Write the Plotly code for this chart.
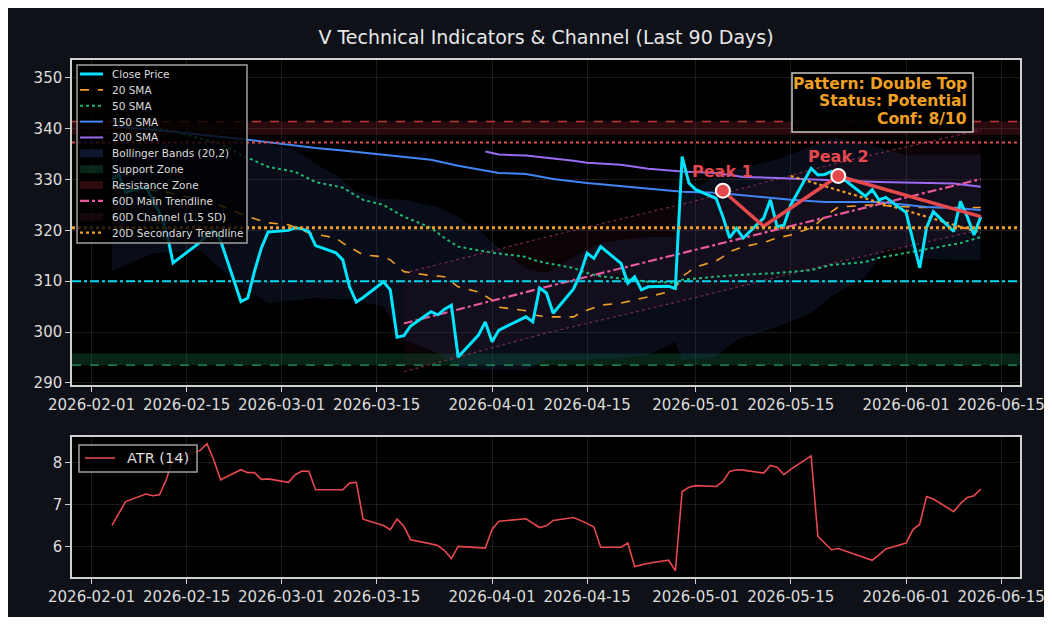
import pandas as pd
import plotly.graph_objects as go
from plotly.subplots import make_subplots

# trading days (NYSE holidays removed)
holidays = ["2026-02-16", "2026-04-03", "2026-05-25"]
dates = [d for d in pd.bdate_range("2026-02-04", "2026-06-12")
         if d.strftime("%Y-%m-%d") not in holidays]

close = [330.0, 331.0, 327.5, 328.5, 326.0, 323.5, 320.0, 313.6, 317.7, 319.0,
         320.0, 318.0, 306.0, 306.7, 312.0, 316.5, 319.7,
         320.0, 320.5, 320.3, 319.8, 317.0, 315.6, 314.2, 308.9, 305.9, 306.8,
         309.9, 308.3, 299.0, 299.3, 301.2, 304.0, 303.4, 304.5, 305.3, 295.1,
         299.4, 302.0,
         298.1, 300.4, 303.0, 302.0, 308.7, 307.7, 303.7, 308.5, 311.5, 315.5,
         314.5, 316.8, 313.5, 309.6, 310.9, 308.3, 308.9, 309.0, 308.6, 334.5,
         329.3,
         328.0, 326.3, 322.7, 318.5, 320.4, 318.5, 322.4, 326.0, 320.7, 321.0,
         325.0, 332.2, 330.9, 331.0, 331.6, 330.9, 326.7, 328.0, 326.0, 326.5,
         323.5, 318.0, 312.6, 320.5, 323.7, 319.8, 325.7, 322.7, 319.1, 322.7]

atr = [6.50, 6.80, 7.07, 7.25, 7.21, 7.23, 7.59, 8.10, 8.29, 8.45,
       8.06, 7.59, 7.83, 7.76, 7.76, 7.60, 7.61,
       7.53, 7.71, 7.80, 7.79, 7.35, 7.35, 7.35, 7.51, 7.53, 6.65,
       6.50, 6.40, 6.65, 6.48, 6.16, 6.06, 6.02, 5.90, 5.71, 6.00,
       5.97, 5.96,
       6.41, 6.60, 6.66, 6.55, 6.45, 6.49, 6.62, 6.69, 6.62, 6.55,
       6.46, 5.98, 5.98, 6.08, 5.52, 5.56, 5.60, 5.67, 5.42, 7.31,
       7.41,
       7.45, 7.43, 7.55, 7.79, 7.83, 7.82, 7.75, 7.93, 7.89, 7.71,
       7.84, 8.16, 6.24, 6.08, 5.92, 5.95, 5.73, 5.67, 5.80, 5.94,
       6.08, 6.40, 6.53, 7.19, 7.13, 6.83, 7.02, 7.17, 7.21, 7.37]

sma20_dates = ["2026-02-04", "2026-02-11", "2026-02-19", "2026-02-24", "2026-02-27",
               "2026-03-02", "2026-03-05", "2026-03-09", "2026-03-10", "2026-03-13",
               "2026-03-16", "2026-03-17", "2026-03-19", "2026-03-23", "2026-03-25",
               "2026-03-27", "2026-03-30", "2026-04-01", "2026-04-02", "2026-04-06",
               "2026-04-07", "2026-04-09", "2026-04-13", "2026-04-14", "2026-04-17",
               "2026-04-20", "2026-04-22", "2026-04-24", "2026-04-27", "2026-04-28",
               "2026-04-29", "2026-05-01", "2026-05-04", "2026-05-05", "2026-05-06",
               "2026-05-08", "2026-05-11", "2026-05-13", "2026-05-15", "2026-05-18",
               "2026-05-19", "2026-05-20", "2026-05-22", "2026-05-27", "2026-06-03",
               "2026-06-12"]
sma20 = [328.5, 327.8, 325.4, 322.7, 321.5, 321.1, 319.5, 318.5, 317.5, 315.2,
         314.8, 314.2, 311.9, 311.1, 310.9, 308.9, 307.9, 306.3, 304.9, 304.2,
         303.4, 303.0, 303.0, 303.8, 305.3, 305.7, 306.3, 306.9, 307.9, 308.7,
         310.9, 312.8, 314.0, 314.8, 315.8, 316.8, 317.6, 318.5, 319.1, 320.5,
         321.5, 322.7, 324.6, 325.0, 324.5, 324.5]

sma50_dates = ["2026-02-04", "2026-02-13", "2026-02-20", "2026-02-23", "2026-02-27",
               "2026-03-03", "2026-03-06", "2026-03-10", "2026-03-13", "2026-03-16",
               "2026-03-19", "2026-03-23", "2026-03-25", "2026-03-27", "2026-04-01",
               "2026-04-06", "2026-04-07", "2026-04-09", "2026-04-13", "2026-04-15",
               "2026-04-17", "2026-04-21", "2026-04-24", "2026-04-28", "2026-04-29",
               "2026-05-04", "2026-05-07", "2026-05-13", "2026-05-18", "2026-05-21",
               "2026-05-26", "2026-05-28", "2026-06-02", "2026-06-05", "2026-06-09",
               "2026-06-12"]
sma50 = [341.5, 339.5, 337.0, 334.9, 332.5, 331.5, 329.5, 328.4, 326.0, 325.0,
         322.7, 320.5, 318.5, 316.8, 315.6, 314.8, 314.2, 313.6, 312.6, 311.6,
         311.0, 310.3, 309.9, 309.7, 310.3, 310.9, 311.2, 311.6, 312.2, 313.2,
         313.8, 314.6, 315.8, 316.6, 317.5, 318.7]

sma150_dates = ["2026-02-04", "2026-02-13", "2026-02-24", "2026-03-02", "2026-03-06",
                "2026-03-10", "2026-03-16", "2026-03-23", "2026-03-27", "2026-04-02",
                "2026-04-06", "2026-04-10", "2026-04-15", "2026-04-21", "2026-04-29",
                "2026-05-04", "2026-05-11", "2026-05-15", "2026-05-20", "2026-05-28",
                "2026-06-04", "2026-06-08", "2026-06-12"]
sma150 = [340.5, 339.4, 337.8, 336.8, 336.2, 335.7, 334.9, 333.9, 332.7, 331.3,
          331.1, 330.1, 329.3, 328.6, 327.6, 327.4, 326.6, 326.0, 325.6, 325.6,
          324.6, 324.4, 324.0]

sma200_dates = ["2026-03-31", "2026-04-02", "2026-04-06", "2026-04-09", "2026-04-13",
                "2026-04-15", "2026-04-20", "2026-04-24", "2026-04-29", "2026-05-04",
                "2026-05-08", "2026-05-13", "2026-05-18", "2026-05-22", "2026-05-28",
                "2026-06-02", "2026-06-08", "2026-06-12"]
sma200 = [335.5, 334.9, 334.7, 334.3, 333.7, 333.3, 332.9, 332.1, 331.6, 331.3,
          330.5, 330.3, 330.1, 329.8, 329.5, 329.3, 329.2, 328.6]

bb_dates = ["2026-02-04", "2026-02-10", "2026-02-17", "2026-02-23", "2026-02-27",
            "2026-03-03", "2026-03-06", "2026-03-09", "2026-03-12", "2026-03-16",
            "2026-03-19", "2026-03-24", "2026-03-27", "2026-03-31", "2026-04-02",
            "2026-04-06", "2026-04-09", "2026-04-14", "2026-04-17", "2026-04-20",
            "2026-04-24", "2026-04-28", "2026-04-29", "2026-05-04", "2026-05-07",
            "2026-05-13", "2026-05-18", "2026-05-21", "2026-05-26", "2026-05-29",
            "2026-06-01", "2026-06-03", "2026-06-08", "2026-06-12"]
bb_upper = [336.0, 336.5, 337.5, 337.5, 337.0, 335.8, 333.0, 330.9, 327.5, 326.2,
            326.0, 324.6, 322.7, 319.0, 316.5, 312.5, 311.6, 315.5, 317.5, 318.1,
            318.7, 318.7, 327.0, 330.5, 332.0, 334.0, 336.5, 338.2, 337.2, 336.0,
            334.7, 334.9, 334.9, 334.9]
bb_lower = [312.0, 315.5, 316.0, 309.0, 305.7, 306.3, 306.7, 306.5, 306.3, 305.0,
            298.5, 295.9, 293.1, 292.6, 292.6, 292.6, 294.5, 294.5, 294.7, 294.9,
            295.5, 298.0, 294.5, 295.1, 298.5, 301.0, 303.8, 307.0, 311.0, 316.5,
            316.5, 314.5, 314.2, 314.2]

trend_dates = ["2026-03-19", "2026-04-09", "2026-05-01", "2026-05-22", "2026-06-12"]
trend_mid = [301.7, 308.9, 316.2, 323.2, 330.1]
trend_up = [311.6, 318.7, 325.8, 333.3, 339.8]
trend_low = [292.2, 299.8, 306.8, 313.8, 320.1]

sec_dates = ["2026-05-15", "2026-06-12"]
sec_trend = [330.7, 319.5]

pat_dates = ["2026-05-05", "2026-05-11", "2026-05-22", "2026-06-12"]
pat_vals = [327.8, 320.8, 330.7, 322.7]
peak_labels = ["Peak 1", "", "Peak 2", ""]

pattern_lines = ["Pattern: Double Top", "Status: Potential", "Conf: 8/10"]

support_zone = [293.5, 295.8]
resistance_zone = [338.8, 341.4]
resist_dotted = 337.3
mid_level = 320.5
pivot_level = 310.0

x_range = ["2026-01-29 02:40", "2026-06-17 18:35"]
tick_dates = ["2026-02-01", "2026-02-15", "2026-03-01", "2026-03-15", "2026-04-01",
              "2026-04-15", "2026-05-01", "2026-05-15", "2026-06-01", "2026-06-15"]

BG = "#0e1117"
TXT = "#dcdcdc"
FONT = "DejaVu Sans"
CYAN = "#00e5ff"
ORANGE = "#f0a028"
GREEN = "#22b573"
BLUE = "#4285f4"
PURPLE = "#9b6bf2"
PINK = "#e8589e"
RED = "#e5484d"
BB_FILL = "rgba(45,75,150,0.17)"
SUP_FILL = "rgba(25,130,80,0.28)"
RES_FILL = "rgba(150,35,45,0.28)"
CH_FILL = "rgba(120,30,60,0.10)"

fig = make_subplots(rows=2, cols=1, vertical_spacing=0.1)


def add(trace, row=1):
    fig.add_trace(trace, row, 1)


# zones
zx = [x_range[0], x_range[1], x_range[1], x_range[0], x_range[0]]
for zone, col in [(support_zone, SUP_FILL), (resistance_zone, RES_FILL)]:
    add(go.Scatter(x=zx, y=[zone[0]] * 2 + [zone[1]] * 2 + [zone[0]], fill="toself",
                   fillcolor=col, line=dict(width=0), mode="lines"))

# bollinger bands
add(go.Scatter(x=bb_dates, y=bb_lower, mode="lines", line=dict(width=0)))
add(go.Scatter(x=bb_dates, y=bb_upper, mode="lines", line=dict(width=0),
               fill="tonexty", fillcolor=BB_FILL))

# 60D channel
ch_line = dict(color="rgba(200,70,120,0.55)", width=1.2, dash="dot")
add(go.Scatter(x=trend_dates, y=trend_low, mode="lines", line=ch_line))
add(go.Scatter(x=trend_dates, y=trend_up, mode="lines", line=ch_line,
               fill="tonexty", fillcolor=CH_FILL))

# moving averages
add(go.Scatter(x=sma20_dates, y=sma20, mode="lines", line=dict(color=ORANGE, width=1.6, dash="dash")))
add(go.Scatter(x=sma50_dates, y=sma50, mode="lines", line=dict(color=GREEN, width=2, dash="dot")))
add(go.Scatter(x=sma150_dates, y=sma150, mode="lines", line=dict(color=BLUE, width=2)))
add(go.Scatter(x=sma200_dates, y=sma200, mode="lines", line=dict(color=PURPLE, width=2)))

add(go.Scatter(x=trend_dates, y=trend_mid, mode="lines", line=dict(color=PINK, width=2.2, dash="dashdot")))
add(go.Scatter(x=sec_dates, y=sec_trend, mode="lines", line=dict(color=ORANGE, width=2.2, dash="dot")))

add(go.Scatter(x=dates, y=close, mode="lines", line=dict(color=CYAN, width=3)))

# double top pattern
add(go.Scatter(x=pat_dates, y=pat_vals, mode="lines", line=dict(color=RED, width=3.5)))
add(go.Scatter(x=[pat_dates[0], pat_dates[2]], y=[pat_vals[0], pat_vals[2]], mode="markers",
               marker=dict(color=RED, size=14, line=dict(color="white", width=2))))
for d, v, lab in zip(pat_dates, pat_vals, peak_labels):
    if lab:
        fig.add_annotation(x=d, y=v, xref="x", yref="y", text=lab, showarrow=False,
                           yshift=19, font=dict(family=FONT, size=16, color=RED, weight="bold"))

# ATR
add(go.Scatter(x=dates, y=atr, mode="lines", line=dict(color=RED, width=1.6)), row=2)


# horizontal levels
def hline(y, color, width, dash):
    fig.add_shape(type="line", xref="x domain", yref="y", x0=0, x1=1, y0=y, y1=y,
                  line=dict(color=color, width=width, dash=dash))


hline(resistance_zone[1], "rgba(230,70,70,0.8)", 1.4, "dash")
hline(resist_dotted, RED, 2, "dot")
hline(mid_level, ORANGE, 3, "dot")
hline(pivot_level, "#00d8f0", 2, "dashdot")
hline(support_zone[0], "#20a060", 1.2, "dash")


# boxes and legends drawn by hand (page pixels -> paper fractions)
def px(x):
    return (x - 72) / 948


def py(y):
    return (577 - y) / 517


def box(x0, y0, x1, y1, fill="rgba(0,0,0,0.8)", edge="#a0a0a0"):
    fig.add_shape(type="rect", xref="paper", yref="paper", layer="above",
                  x0=px(x0), x1=px(x1), y0=py(y1), y1=py(y0),
                  fillcolor=fill, line=dict(color=edge, width=1.5))


def text(x, y, s, size, color=TXT, anchor="left", bold=False):
    fig.add_annotation(xref="paper", yref="paper", x=px(x), y=py(y), xanchor=anchor,
                       yanchor="middle", text=s, showarrow=False,
                       font=dict(family=FONT, size=size, color=color,
                                 weight="bold" if bold else "normal"))


# pattern info box
box(792, 73, 973, 132, fill="rgba(0,0,0,0.9)", edge="#c8c8c8")
for i, line in enumerate(pattern_lines):
    text(969, 84 + i * 17.5, line, 15.5, color="#f0a020", anchor="right", bold=True)

legend_items = [
    ("Close Price", "line", dict(color=CYAN, width=3)),
    ("20 SMA", "line", dict(color=ORANGE, width=1.6, dash="dash")),
    ("50 SMA", "line", dict(color=GREEN, width=2, dash="dot")),
    ("150 SMA", "line", dict(color=BLUE, width=2)),
    ("200 SMA", "line", dict(color=PURPLE, width=2)),
    ("Bollinger Bands (20,2)", "fill", "rgba(45,75,150,0.3)"),
    ("Support Zone", "fill", "rgba(25,130,80,0.3)"),
    ("Resistance Zone", "fill", "rgba(150,35,45,0.3)"),
    ("60D Main Trendline", "line", dict(color=PINK, width=2.2, dash="dashdot")),
    ("60D Channel (1.5 SD)", "fill", "rgba(120,30,60,0.18)"),
    ("20D Secondary Trendline", "line", dict(color=ORANGE, width=2.2, dash="dot")),
]
box(77, 65, 247, 243)
for i, (label, kind, style) in enumerate(legend_items):
    yc = 74 + i * 15.87
    if kind == "line":
        fig.add_shape(type="line", xref="paper", yref="paper", layer="above",
                      x0=px(80), x1=px(103), y0=py(yc), y1=py(yc), line=style)
    else:
        fig.add_shape(type="rect", xref="paper", yref="paper", layer="above",
                      x0=px(80), x1=px(103), y0=py(yc + 4), y1=py(yc - 4),
                      fillcolor=style, line=dict(width=0))
    text(110, yc, label, 10.5)

box(79, 445, 197, 472)
fig.add_shape(type="line", xref="paper", yref="paper", layer="above",
              x0=px(85), x1=px(115), y0=py(458), y1=py(458), line=dict(color=RED, width=1.6))
text(125, 458, "ATR (14)", 14.5)

axis_common = dict(showline=True, mirror=True, linecolor="#d0d0d0", linewidth=1.5,
                   gridcolor="rgba(255,255,255,0.1)", gridwidth=1, zeroline=False,
                   ticks="outside", ticklen=5, tickcolor="#d0d0d0", automargin=False,
                   tickfont=dict(family=FONT, size=15, color=TXT))

fig.update_xaxes(range=x_range, tickvals=tick_dates, tickformat="%Y-%m-%d",
                 ticklabeloverflow="allow", **axis_common)
fig.update_yaxes(**axis_common)
fig.update_layout(
    width=1036, height=609,
    paper_bgcolor=BG, plot_bgcolor="black",
    margin=dict(l=64, r=24, t=52, b=40, autoexpand=False),
    title=dict(text="V Technical Indicators & Channel (Last 90 Days)", x=0.5, xref="paper",
               y=1 - 29 / 609, yref="container", yanchor="middle", xanchor="center",
               font=dict(family=FONT, size=19, color="#e8e8e8")),
    yaxis=dict(domain=[0.3714, 1], range=[289.6, 353.5], tickvals=[290, 300, 310, 320, 330, 340, 350]),
    yaxis2=dict(domain=[0, 0.2708], range=[5.27, 8.61], tickvals=[6, 7, 8]),
    showlegend=False,
    hovermode=False,
)

fig.write_html("out.html")
